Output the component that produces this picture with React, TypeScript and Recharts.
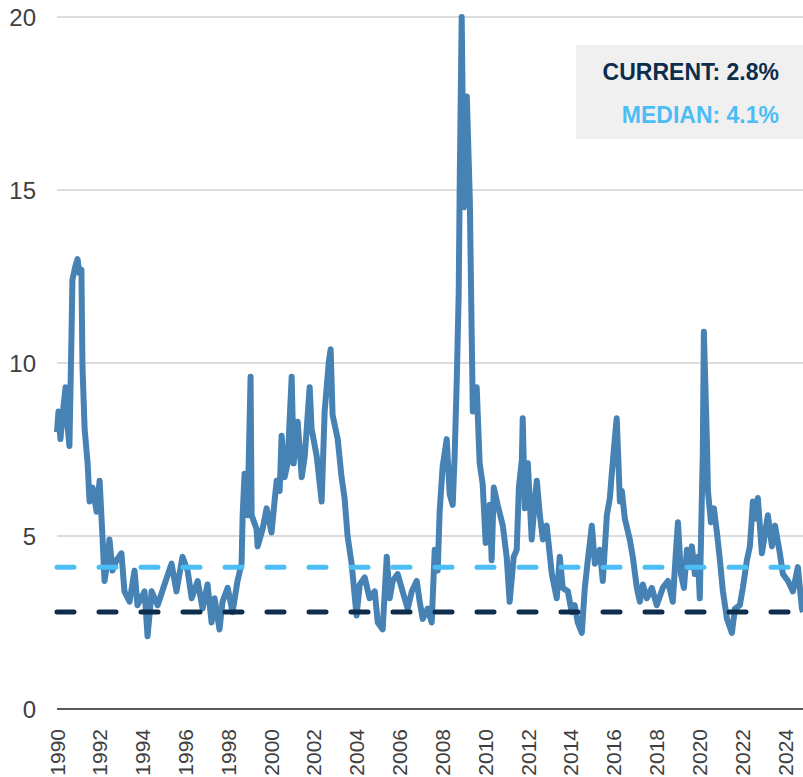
import React from "react";
import {
  LineChart,
  Line,
  XAxis,
  YAxis,
  CartesianGrid,
  ReferenceLine,
} from "recharts";

// [decimal year, spread %], by decade
const s1990s: [number, number][] = [
  [1990.0, 8.0], [1990.07, 8.6], [1990.16, 7.8], [1990.26, 8.5], [1990.4, 9.3],
  [1990.49, 8.2], [1990.58, 7.6], [1990.68, 10.9], [1990.72, 12.4], [1990.86, 12.8],
  [1990.96, 13.0], [1991.05, 12.6], [1991.14, 12.7], [1991.19, 9.9], [1991.29, 8.1],
  [1991.43, 7.1], [1991.52, 6.0], [1991.66, 6.4], [1991.85, 5.7], [1991.99, 6.6],
  [1992.13, 4.9], [1992.22, 3.7], [1992.36, 4.3], [1992.45, 4.9], [1992.59, 4.0],
  [1992.78, 4.3], [1993.01, 4.5], [1993.15, 3.4], [1993.39, 3.1], [1993.62, 4.0],
  [1993.76, 3.0], [1994.09, 3.4], [1994.23, 2.1], [1994.42, 3.4], [1994.7, 3.0],
  [1995.02, 3.6], [1995.35, 4.2], [1995.58, 3.4], [1995.86, 4.4], [1996.1, 4.0],
  [1996.29, 3.2], [1996.57, 3.7], [1996.8, 2.9], [1997.03, 3.6], [1997.22, 2.5],
  [1997.36, 3.2], [1997.59, 2.3], [1997.73, 3.1], [1997.97, 3.5], [1998.2, 2.8],
  [1998.43, 3.7], [1998.62, 4.2], [1998.67, 5.6], [1998.76, 6.8], [1998.9, 5.6],
  [1999.04, 9.6], [1999.09, 5.6], [1999.32, 5.2], [1999.37, 4.7], [1999.6, 5.2],
  [1999.79, 5.8],
];

const s2000s: [number, number][] = [
  [2000.02, 5.1], [2000.16, 6.0], [2000.26, 6.6], [2000.4, 6.3], [2000.49, 7.9],
  [2000.63, 6.7], [2000.77, 7.1], [2000.96, 9.6], [2001.05, 7.1], [2001.24, 8.3],
  [2001.43, 6.7], [2001.57, 7.3], [2001.8, 9.3], [2001.89, 8.1], [2002.13, 7.3],
  [2002.36, 6.0], [2002.5, 8.6], [2002.69, 10.0], [2002.78, 10.4], [2002.87, 8.5],
  [2003.11, 7.8], [2003.29, 6.7], [2003.43, 6.1], [2003.57, 5.0], [2003.76, 4.2],
  [2003.99, 2.7], [2004.14, 3.6], [2004.37, 3.8], [2004.6, 3.2], [2004.84, 3.4],
  [2004.98, 2.5], [2005.21, 2.3], [2005.4, 4.4], [2005.54, 3.2], [2005.68, 3.7],
  [2005.91, 3.9], [2006.14, 3.4], [2006.38, 2.9], [2006.57, 3.4], [2006.8, 3.7],
  [2006.94, 3.1], [2007.08, 2.6], [2007.31, 2.9], [2007.5, 2.5], [2007.64, 4.6],
  [2007.78, 4.0], [2007.87, 5.7], [2008.01, 7.0], [2008.2, 7.8], [2008.34, 6.2],
  [2008.48, 5.9], [2008.57, 7.3], [2008.67, 9.5], [2008.76, 12.0], [2008.81, 15.3],
  [2008.9, 20.0], [2009.0, 14.5], [2009.14, 17.7], [2009.28, 14.7], [2009.37, 10.7],
  [2009.42, 8.6], [2009.6, 9.3], [2009.74, 7.1], [2009.88, 6.5],
];

const s2010s: [number, number][] = [
  [2010.02, 4.8], [2010.21, 5.9], [2010.3, 4.3], [2010.4, 6.4], [2010.58, 5.9],
  [2010.82, 5.3], [2011.0, 4.4], [2011.14, 3.1], [2011.33, 4.4], [2011.47, 4.6],
  [2011.57, 6.4], [2011.71, 7.2], [2011.75, 8.4], [2011.85, 5.8], [2011.99, 7.1],
  [2012.17, 4.9], [2012.31, 6.0], [2012.41, 6.6], [2012.55, 5.6], [2012.69, 4.9],
  [2012.87, 5.3], [2013.11, 3.9], [2013.34, 3.2], [2013.48, 4.4], [2013.62, 3.5],
  [2013.86, 3.4], [2014.04, 2.8], [2014.18, 3.0], [2014.32, 2.5], [2014.51, 2.2],
  [2014.65, 3.5], [2014.79, 4.3], [2014.98, 5.3], [2015.12, 4.2], [2015.35, 4.6],
  [2015.49, 3.7], [2015.68, 5.6], [2015.82, 6.1], [2015.91, 6.8], [2016.05, 7.8],
  [2016.14, 8.4], [2016.29, 6.0], [2016.38, 6.3], [2016.52, 5.5], [2016.75, 4.9],
  [2016.89, 4.4], [2017.08, 3.5], [2017.22, 3.1], [2017.36, 3.6], [2017.55, 3.2],
  [2017.78, 3.5], [2018.01, 3.0], [2018.29, 3.5], [2018.53, 3.7], [2018.76, 3.1],
  [2018.9, 4.5], [2019.0, 5.4], [2019.14, 3.9], [2019.28, 3.5], [2019.42, 4.6],
  [2019.56, 4.1], [2019.65, 4.7], [2019.79, 3.9], [2019.93, 4.4],
];

const s2020s: [number, number][] = [
  [2020.02, 3.2], [2020.16, 7.4], [2020.21, 10.9], [2020.35, 7.8], [2020.4, 6.3],
  [2020.54, 5.4], [2020.68, 5.8], [2020.82, 5.1], [2020.96, 4.3], [2021.1, 3.4],
  [2021.29, 2.6], [2021.52, 2.2], [2021.66, 2.9], [2021.89, 3.0], [2022.03, 3.5],
  [2022.22, 4.3], [2022.36, 4.7], [2022.5, 6.0], [2022.59, 5.5], [2022.73, 6.1],
  [2022.92, 4.5], [2023.2, 5.6], [2023.39, 4.7], [2023.53, 5.3], [2023.76, 4.5],
  [2023.9, 3.9], [2024.14, 3.7], [2024.37, 3.4], [2024.6, 4.1], [2024.79, 2.9],
  [2024.84, 2.8],
];

const yearTicks = [
  1990, 1992, 1994, 1996, 1998, 2000, 2002, 2004, 2006, 2008, 2010, 2012,
  2014, 2016, 2018, 2020, 2022, 2024,
];
const valueTicks = [0, 5, 10, 15, 20];

const CURRENT = 2.8;
const MEDIAN = 4.1;

const data = [...s1990s, ...s2000s, ...s2010s, ...s2020s].map(([t, v]) => ({
  t,
  v,
}));

const FONT = "'Liberation Sans', Arial, sans-serif";
const NAVY = "#0e2d4c";
const SKY = "#4dbdf6";

function YearTick({ x, y, payload }: any) {
  const ty = y + 12;
  return (
    <text
      x={x}
      y={ty}
      transform={`rotate(-90, ${x}, ${ty})`}
      textAnchor="end"
      dominantBaseline="central"
      fontSize={21}
      fontFamily={FONT}
      fill="#404040"
    >
      {payload.value}
    </text>
  );
}

export default function App() {
  return (
    <div style={{ position: "absolute", left: 0, top: 0, width: 803, height: 777 }}>
      <LineChart
        width={803}
        height={777}
        data={data}
        margin={{ top: 17, right: 0, left: 0, bottom: 0 }}
      >
        <CartesianGrid vertical={false} stroke="#dcdcdc" strokeWidth={2} />
        <XAxis
          dataKey="t"
          type="number"
          domain={[1990, 2024.84]}
          ticks={yearTicks}
          interval={0}
          height={68}
          tickLine={false}
          axisLine={{ stroke: "#5a5a5a", strokeWidth: 2 }}
          tick={<YearTick />}
        />
        <YAxis
          domain={[0, 20]}
          ticks={valueTicks}
          width={57}
          tickLine={false}
          axisLine={false}
          tickSize={0}
          tickMargin={21}
          tick={{ fontSize: 24, fontFamily: FONT, fill: "#404040" }}
        />
        <Line
          type="linear"
          dataKey="v"
          stroke="#4682b4"
          strokeWidth={6}
          strokeLinejoin="round"
          dot={false}
          isAnimationActive={false}
        />
        <ReferenceLine
          y={MEDIAN}
          stroke={SKY}
          strokeWidth={5}
          strokeDasharray="17 25"
          strokeLinecap="round"
        />
        <ReferenceLine
          y={CURRENT}
          stroke={NAVY}
          strokeWidth={5}
          strokeDasharray="17 25"
          strokeLinecap="round"
        />
      </LineChart>
      <svg
        width={227}
        height={94}
        style={{ position: "absolute", left: 576, top: 45 }}
      >
        <rect x={0} y={0} width={227} height={94} fill="#f0f0f0" />
        <text
          x={203}
          y={35}
          textAnchor="end"
          fontSize={23}
          fontWeight="bold"
          fontFamily={FONT}
          fill={NAVY}
        >
          CURRENT: {CURRENT}%
        </text>
        <text
          x={203}
          y={78}
          textAnchor="end"
          fontSize={23}
          fontWeight="bold"
          fontFamily={FONT}
          fill={SKY}
        >
          MEDIAN: {MEDIAN}%
        </text>
      </svg>
    </div>
  );
}
